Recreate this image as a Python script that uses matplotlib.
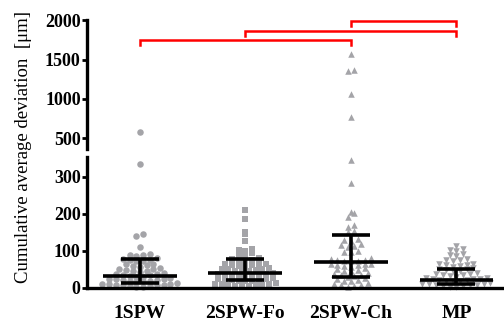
import numpy as np
import matplotlib
matplotlib.use("Agg")
import matplotlib.pyplot as plt

categories = ["1SPW", "2SPW-Fo", "2SPW-Ch", "MP"]
markers = ["o", "s", "^", "v"]

spw1 = [582, 336, 146, 140, 111, 92, 90, 88, 86, 80, 78, 77, 75, 74, 72, 66, 64, 62, 60, 58,
        53, 52, 50, 49, 47, 46, 44, 40, 39, 37, 36, 34, 33, 31, 30, 26, 25, 24, 23, 22, 21,
        20, 19, 18, 17, 13, 12, 11, 10, 9, 8, 8, 7, 6, 5, 4, 3]
spw2_fo = [211, 186, 150, 146, 128, 106, 104, 101, 94, 91, 89, 80, 78, 77, 75, 73, 66, 65,
           64, 62, 61, 60, 58, 53, 52, 51, 50, 48, 47, 46, 45, 40, 39, 38, 37, 36, 34, 33,
           32, 31, 26, 25, 24, 23, 22, 21, 20, 19, 18, 13, 12, 11, 10, 9, 8, 7, 6, 5, 4]
spw2_ch = [1567, 1366, 1353, 1062, 774, 346, 283, 206, 202, 192, 170, 166, 155, 151, 132,
           130, 128, 118, 116, 114, 112, 100, 98, 97, 80, 78, 77, 76, 74, 73, 72, 66, 65,
           64, 62, 61, 60, 58, 53, 51, 49, 47, 45, 40, 38, 36, 34, 32, 30, 26, 24, 22, 20,
           18, 13, 11, 9, 8, 6, 4]
mp = [113, 106, 103, 100, 91, 89, 87, 79, 77, 75, 73, 66, 65, 63, 62, 60, 58, 54, 52, 50,
      49, 47, 45, 40, 39, 37, 36, 34, 33, 31, 27, 26, 25, 24, 23, 22, 21, 20, 19, 18, 13,
      12, 11, 10, 9, 8, 7, 6, 5, 4, 3]
groups = [spw1, spw2_fo, spw2_ch, mp]

medians = [32, 41, 70, 22]
q1 = [14, 22, 30, 12]
q3 = [78, 78, 143, 51]

# significance brackets: (from category, to category)
brackets = [(0, 2), (1, 3), (2, 3)]
bracket_heights = [1747, 1867, 1992]

font = "Liberation Serif"
gray = "#a4a4a8"

fig = plt.figure(figsize=(5.04, 3.22), dpi=100)
left, right = 87 / 504, 1.0
ax_lo = fig.add_axes([left, 1 - 288 / 322, right - left, (288 - 157) / 322])
ax_hi = fig.add_axes([left, 1 - 149 / 322, right - left, (149 - 20.5) / 322])

lo_lim = (0, 354)
hi_lim = (360, 2000)
xlim = (-0.5, 3.45)
for ax in (ax_lo, ax_hi):
    ax.set_xlim(*xlim)
ax_lo.set_ylim(*lo_lim)
ax_hi.set_ylim(*hi_lim)

# pixel scales for the row layout of the dots
px_x = (504 - 87) / (xlim[1] - xlim[0])
px_lo = (288 - 157) / (lo_lim[1] - lo_lim[0])
px_hi = (149 - 20.5) / (hi_lim[1] - hi_lim[0])
row_h = 5.0
spacing = 6.8


def row_layout(vals, scale, base):
    rows = {}
    for v in sorted(vals):
        b = int(round(((v - base) * scale - 3) / row_h))
        rows.setdefault(b, []).append(v)
    xs, ys = [], []
    for b, vs in rows.items():
        n = len(vs)
        offs = [(k - (n - 1) / 2) * spacing for k in range(n)]
        order = sorted(range(n), key=lambda k: abs(offs[k]))
        for v, k in zip(vs, order):
            xs.append(offs[k] / px_x)
            ys.append(v)
    return xs, ys


for i, vals in enumerate(groups):
    lo_vals = [v for v in vals if v < hi_lim[0]]
    hi_vals = [v for v in vals if v >= hi_lim[0]]
    for ax, sub, sc, base in ((ax_lo, lo_vals, px_lo, 0), (ax_hi, hi_vals, px_hi, hi_lim[0])):
        if not sub:
            continue
        dx, ys = row_layout(sub, sc, base)
        ax.scatter([i + d for d in dx], ys, marker=markers[i], s=22, color=gray,
                   linewidths=0, clip_on=False, zorder=2)
    # median and interquartile range
    ax_lo.hlines(medians[i], i - 0.35, i + 0.35, color="black", lw=2.6, zorder=3)
    ax_lo.hlines([q1[i], q3[i]], i - 0.18, i + 0.18, color="black", lw=2.6, zorder=3)
    ax_lo.vlines(i, q1[i], q3[i], color="black", lw=2.6, zorder=3)

for (a, b), h in zip(brackets, bracket_heights):
    leg = 60
    ax_hi.plot([a, a, b, b], [h - leg, h, h, h - leg], color="#ff0000", lw=1.8,
               clip_on=False, solid_joinstyle="miter", zorder=4)

# spines & ticks
for ax in (ax_lo, ax_hi):
    ax.spines["top"].set_visible(False)
    ax.spines["right"].set_visible(False)
    ax.spines["left"].set_linewidth(2.4)
    ax.tick_params(axis="y", direction="out", length=3.5, width=2, pad=1)
ax_hi.spines["bottom"].set_visible(False)
ax_hi.set_xticks([])
ax_lo.spines["bottom"].set_linewidth(2.4)

lo_ticks = [0, 100, 200, 300]
hi_ticks = [500, 1000, 1500, 2000]
ax_lo.set_yticks(lo_ticks)
ax_hi.set_yticks(hi_ticks)
ax_lo.set_yticklabels([str(t) for t in lo_ticks], fontfamily=font, fontweight="bold",
                      fontsize=13)
ax_hi.set_yticklabels([str(t) for t in hi_ticks], fontfamily=font, fontweight="bold",
                      fontsize=13)

ax_lo.set_xticks(range(len(categories)))
ax_lo.set_xticklabels(categories, fontfamily=font, fontweight="bold", fontsize=14)
ax_lo.tick_params(axis="x", length=0, pad=12)

fig.text(0.047, 0.545, "Cumulative average deviation  [\u03bcm]", rotation=90,
         ha="center", va="center", fontfamily=font, fontsize=13.5)

fig.savefig("out.png", dpi=100)
